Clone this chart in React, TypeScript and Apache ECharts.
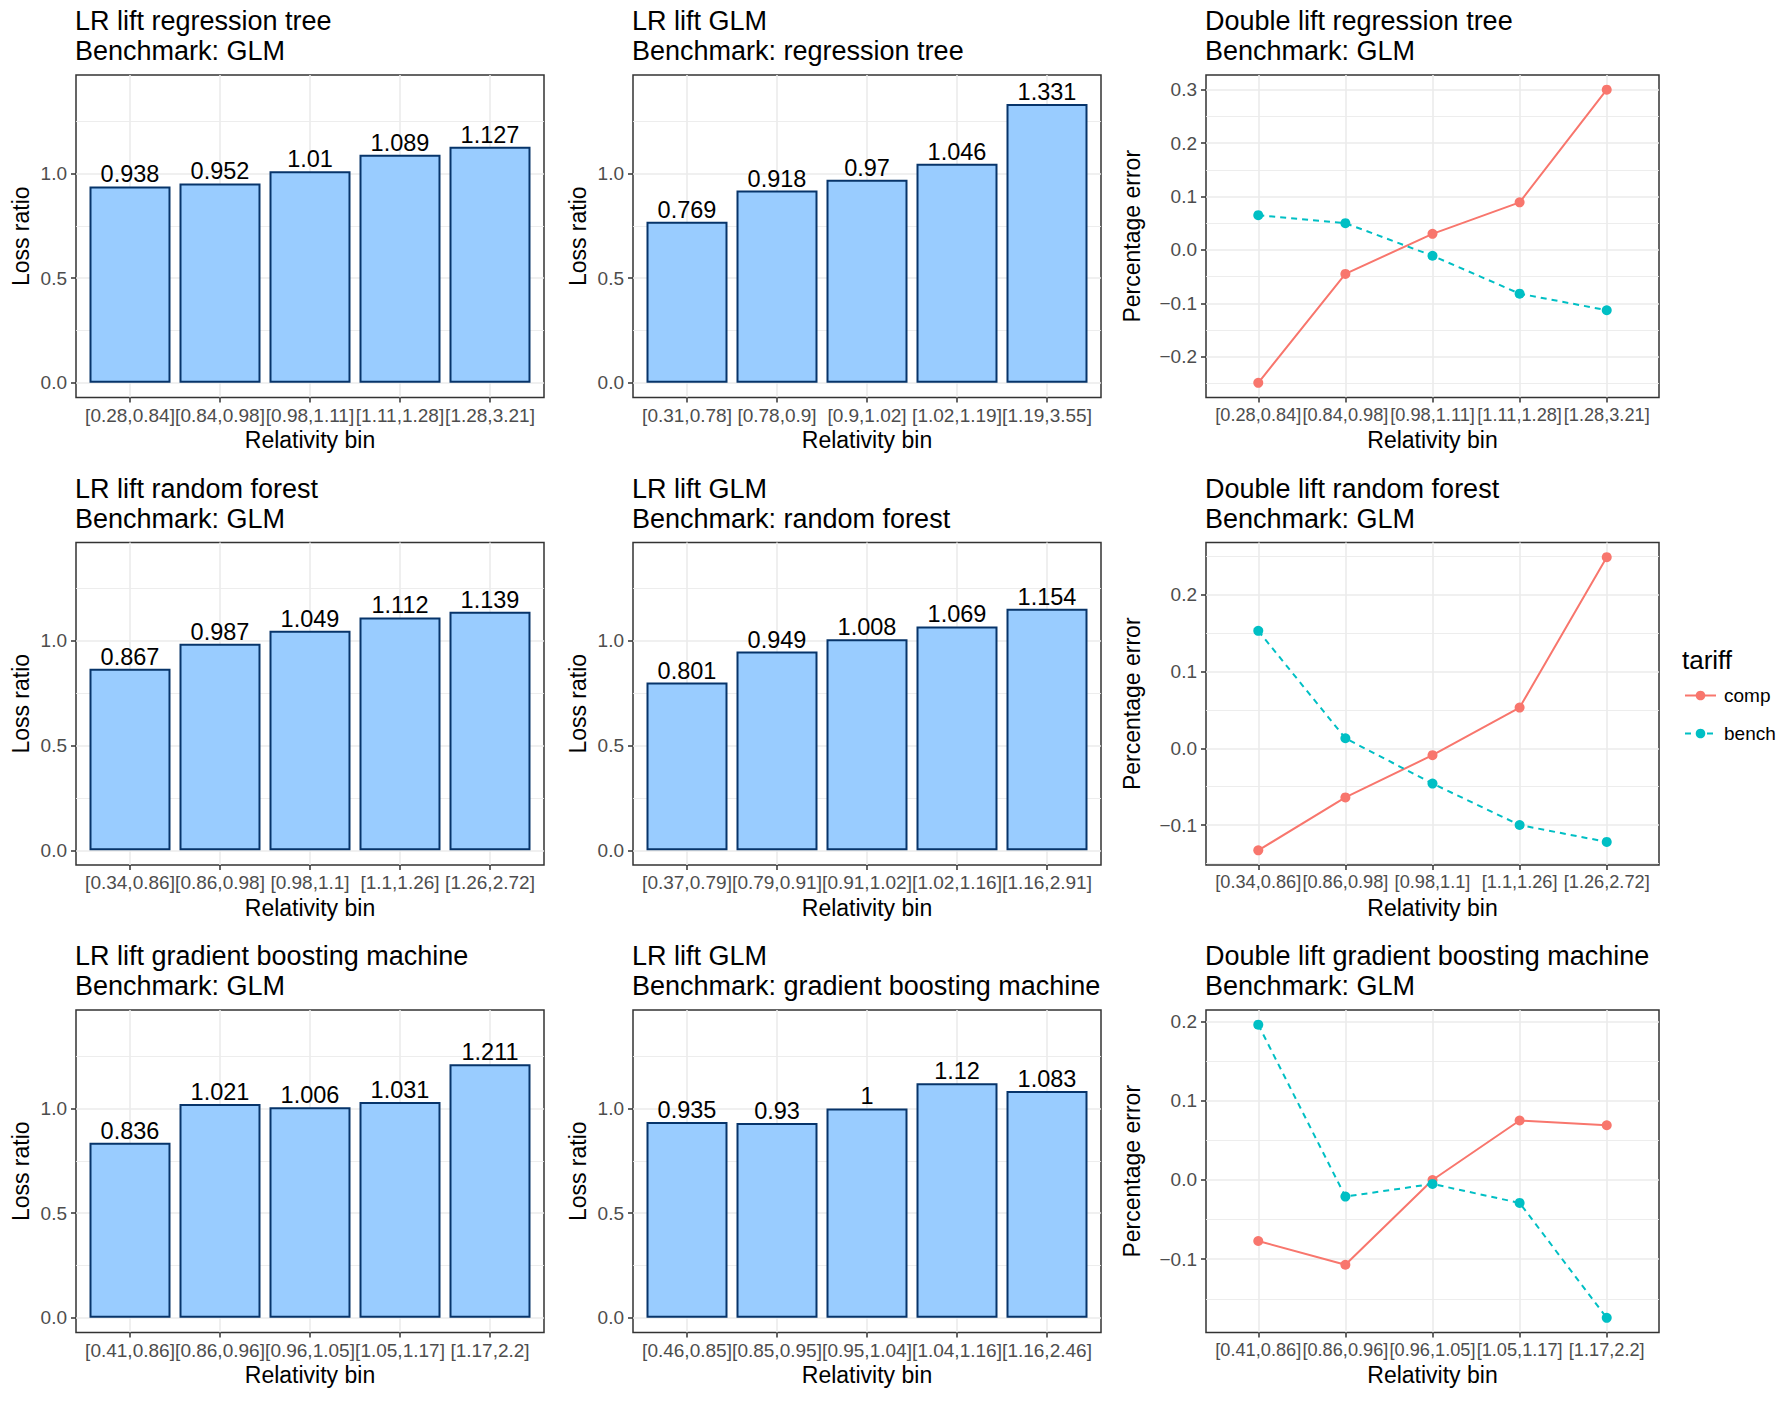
import React, { useEffect, useRef } from "react";
import * as echarts from "echarts";

const W = 1784;
const H = 1403;
const FONT = "'Liberation Sans', Arial, Helvetica, sans-serif";

// ---- Row 1: regression tree ----
const binsRT = ["[0.28,0.84]", "[0.84,0.98]", "[0.98,1.11]", "[1.11,1.28]", "[1.28,3.21]"];
const lrRT = [0.938, 0.952, 1.01, 1.089, 1.127];
const binsGLMvsRT = ["[0.31,0.78]", "[0.78,0.9]", "[0.9,1.02]", "[1.02,1.19]", "[1.19,3.55]"];
const lrGLMvsRT = [0.769, 0.918, 0.97, 1.046, 1.331];
const dblCompRT = [-0.249, -0.045, 0.03, 0.089, 0.3];
const dblBenchRT = [0.065, 0.05, -0.011, -0.082, -0.113];

// ---- Row 2: random forest ----
const binsRF = ["[0.34,0.86]", "[0.86,0.98]", "[0.98,1.1]", "[1.1,1.26]", "[1.26,2.72]"];
const lrRF = [0.867, 0.987, 1.049, 1.112, 1.139];
const binsGLMvsRF = ["[0.37,0.79]", "[0.79,0.91]", "[0.91,1.02]", "[1.02,1.16]", "[1.16,2.91]"];
const lrGLMvsRF = [0.801, 0.949, 1.008, 1.069, 1.154];
const dblCompRF = [-0.133, -0.064, -0.009, 0.053, 0.249];
const dblBenchRF = [0.153, 0.013, -0.046, -0.1, -0.122];

// ---- Row 3: gradient boosting machine ----
const binsGBM = ["[0.41,0.86]", "[0.86,0.96]", "[0.96,1.05]", "[1.05,1.17]", "[1.17,2.2]"];
const lrGBM = [0.836, 1.021, 1.006, 1.031, 1.211];
const binsGLMvsGBM = ["[0.46,0.85]", "[0.85,0.95]", "[0.95,1.04]", "[1.04,1.16]", "[1.16,2.46]"];
const lrGLMvsGBM = [0.935, 0.93, 1, 1.12, 1.083];
const dblCompGBM = [-0.077, -0.107, 0.0, 0.075, 0.069];
const dblBenchGBM = [0.196, -0.021, -0.005, -0.029, -0.174];

// ---- tick labels ----
const lossTicks = [0, 0.5, 1.0];
const lossMinor = [0.25, 0.75, 1.25];
const lossRange = [-0.07, 1.47];
const pctTicksRT = [-0.2, -0.1, 0, 0.1, 0.2, 0.3];
const pctMinorRT = [-0.25, -0.15, -0.05, 0.05, 0.15, 0.25];
const pctTicksRF = [-0.1, 0, 0.1, 0.2];
const pctMinorRF = [-0.15, -0.05, 0.05, 0.15, 0.25];
const pctTicksGBM = [-0.1, 0, 0.1, 0.2];
const pctMinorGBM = [-0.15, -0.05, 0.05, 0.15];

const seriesNames = ["comp", "bench"];
const legendTitle = "tariff";

type Panel = {
  row: number;
  col: number;
  title: string;
  bins: string[];
  kind: "bar" | "line";
  bars?: number[];
  comp?: number[];
  bench?: number[];
  ticks: number[];
  minor: number[];
};

const panels: Panel[] = [
  { row: 0, col: 0, title: "LR lift regression tree\nBenchmark: GLM", bins: binsRT, kind: "bar", bars: lrRT, ticks: lossTicks, minor: lossMinor },
  { row: 0, col: 1, title: "LR lift GLM\nBenchmark: regression tree", bins: binsGLMvsRT, kind: "bar", bars: lrGLMvsRT, ticks: lossTicks, minor: lossMinor },
  { row: 0, col: 2, title: "Double lift regression tree\nBenchmark: GLM", bins: binsRT, kind: "line", comp: dblCompRT, bench: dblBenchRT, ticks: pctTicksRT, minor: pctMinorRT },
  { row: 1, col: 0, title: "LR lift random forest\nBenchmark: GLM", bins: binsRF, kind: "bar", bars: lrRF, ticks: lossTicks, minor: lossMinor },
  { row: 1, col: 1, title: "LR lift GLM\nBenchmark: random forest", bins: binsGLMvsRF, kind: "bar", bars: lrGLMvsRF, ticks: lossTicks, minor: lossMinor },
  { row: 1, col: 2, title: "Double lift random forest\nBenchmark: GLM", bins: binsRF, kind: "line", comp: dblCompRF, bench: dblBenchRF, ticks: pctTicksRF, minor: pctMinorRF },
  { row: 2, col: 0, title: "LR lift gradient boosting machine\nBenchmark: GLM", bins: binsGBM, kind: "bar", bars: lrGBM, ticks: lossTicks, minor: lossMinor },
  { row: 2, col: 1, title: "LR lift GLM\nBenchmark: gradient boosting machine", bins: binsGLMvsGBM, kind: "bar", bars: lrGLMvsGBM, ticks: lossTicks, minor: lossMinor },
  { row: 2, col: 2, title: "Double lift gradient boosting machine\nBenchmark: GLM", bins: binsGBM, kind: "line", comp: dblCompGBM, bench: dblBenchGBM, ticks: pctTicksGBM, minor: pctMinorGBM },
];

const rowTop = [75, 542.5, 1010];
const plotH = 322.5;
const colLeft = [76, 633, 1206];
const colW = [468, 468, 453];
const xLabelSize = [19, 19, 18.2];

const COMP = "#F8766D";
const BENCH = "#00BFC4";
const GRID = "#EBEBEB";
const DARK = "#333333";

function fmtPct(v: number) {
  const s = Math.abs(v).toFixed(1);
  return v < -1e-9 ? "\u2212" + s : s;
}

function buildOption() {
  const grid: any[] = [];
  const xAxis: any[] = [];
  const yAxis: any[] = [];
  const series: any[] = [];
  const title: any[] = [];

  panels.forEach((p, k) => {
    const left = colLeft[p.col];
    const top = rowTop[p.row];
    const width = colW[p.col];
    grid.push({
      left,
      top,
      width,
      height: plotH,
      show: true,
      borderColor: DARK,
      borderWidth: 1.5,
      backgroundColor: "transparent",
      containLabel: false,
      outerBoundsMode: "none",
    });
    title.push({
      text: p.title,
      left: left - 1,
      top: top - 69,
      padding: 0,
      textStyle: { fontSize: 27, fontWeight: "normal", color: "#000", lineHeight: 30, fontFamily: FONT },
    });
    const pos = p.bins.map((_, i) => i + 1);
    xAxis.push({
      type: "value",
      gridIndex: k,
      min: 0.4,
      max: 5.6,
      axisLine: { show: false, onZero: false },
      axisTick: { show: true, interval: 0, length: 5, customValues: pos, lineStyle: { color: DARK, width: 1.5 } },
      axisLabel: {
        customValues: pos,
        interval: 0,
        hideOverlap: false,
        showMinLabel: true,
        showMaxLabel: true,
        formatter: (v: number) => p.bins[Math.round(v) - 1] ?? "",
        fontSize: xLabelSize[p.col],
        color: "#4D4D4D",
        margin: 8,
        fontFamily: FONT,
      },
      splitLine: { show: true, interval: 0, lineStyle: { color: GRID, width: 1.6 } },
      name: "Relativity bin",
      nameLocation: "middle",
      nameGap: 31,
      nameTextStyle: { fontSize: 23, color: "#000", fontFamily: FONT },
    });

    let ymin: number, ymax: number;
    if (p.kind === "bar") {
      ymin = lossRange[0];
      ymax = lossRange[1];
    } else {
      const all = [...(p.comp as number[]), ...(p.bench as number[])];
      const lo = Math.min(...all);
      const hi = Math.max(...all);
      const span = hi - lo;
      ymin = lo - 0.05 * span;
      ymax = hi + 0.05 * span;
    }
    const isBar = p.kind === "bar";
    yAxis.push({
      type: "value",
      gridIndex: k,
      min: ymin,
      max: ymax,
      position: "left",
      axisLine: { show: false, onZero: false },
      axisTick: { show: true, length: 5, customValues: p.ticks, lineStyle: { color: DARK, width: 1.5 } },
      axisLabel: {
        customValues: p.ticks,
        hideOverlap: false,
        showMinLabel: true,
        showMaxLabel: true,
        formatter: (v: number) => (isBar ? v.toFixed(1) : fmtPct(v)),
        fontSize: 19,
        color: "#4D4D4D",
        margin: 9,
        fontFamily: FONT,
      },
      splitLine: { show: true, lineStyle: { color: GRID, width: 1.6 } },
      name: isBar ? "Loss ratio" : "Percentage error",
      nameLocation: "middle",
      nameGap: isBar ? 44 : 63,
      nameTextStyle: { fontSize: 23, color: "#000", fontFamily: FONT },
    });
    yAxis.push({
      type: "value",
      gridIndex: k,
      min: ymin,
      max: ymax,
      position: "left",
      axisLine: { show: false, onZero: false },
      axisTick: { show: false, customValues: p.minor },
      axisLabel: { show: false, customValues: p.minor },
      splitLine: { show: true, lineStyle: { color: GRID, width: 0.9 } },
    });

    if (isBar) {
      series.push({
        type: "bar",
        xAxisIndex: k,
        yAxisIndex: 2 * k,
        data: (p.bars as number[]).map((v, i) => [i + 1, v]),
        barWidth: (0.9 * width) / 5.2,
        itemStyle: { color: "#99CCFF", borderColor: "#07346A", borderWidth: 2 },
        label: {
          show: true,
          position: "top",
          distance: 0,
          formatter: (q: any) => String(q.value[1]),
          fontSize: 23.5,
          color: "#000",
          fontFamily: FONT,
        },
      });
    } else {
      series.push({
        type: "line",
        name: seriesNames[0],
        xAxisIndex: k,
        yAxisIndex: 2 * k,
        data: (p.comp as number[]).map((v, i) => [i + 1, v]),
        symbol: "circle",
        symbolSize: 10,
        lineStyle: { color: COMP, width: 2 },
        itemStyle: { color: COMP },
      });
      series.push({
        type: "line",
        name: seriesNames[1],
        xAxisIndex: k,
        yAxisIndex: 2 * k,
        data: (p.bench as number[]).map((v, i) => [i + 1, v]),
        symbol: "circle",
        symbolSize: 10,
        lineStyle: { color: BENCH, width: 2, type: [6, 5] },
        itemStyle: { color: BENCH },
      });
    }
  });

  title.push({
    text: legendTitle,
    left: 1682,
    top: 647,
    padding: 0,
    textStyle: { fontSize: 26, fontWeight: "normal", color: "#000", fontFamily: FONT },
  });

  return {
    animation: false,
    backgroundColor: "#FFFFFF",
    textStyle: { fontFamily: FONT },
    title,
    grid,
    xAxis,
    yAxis,
    series,
    legend: {
      orient: "vertical",
      left: 1684,
      top: 686,
      padding: 0,
      itemWidth: 31,
      itemHeight: 12,
      itemGap: 19,
      selectedMode: false,
      data: seriesNames,
      textStyle: { fontSize: 19, color: "#000", fontFamily: FONT, padding: [0, 0, 0, 3] },
    },
  };
}

export default function App() {
  const ref = useRef<HTMLDivElement>(null);
  useEffect(() => {
    if (!ref.current) return;
    const chart = echarts.init(ref.current, undefined, { renderer: "svg", width: W, height: H });
    chart.setOption(buildOption() as any);
    return () => chart.dispose();
  }, []);
  return (
    <div
      ref={ref}
      style={{ position: "absolute", left: 0, top: 0, width: W, height: H, background: "#fff" }}
    />
  );
}
